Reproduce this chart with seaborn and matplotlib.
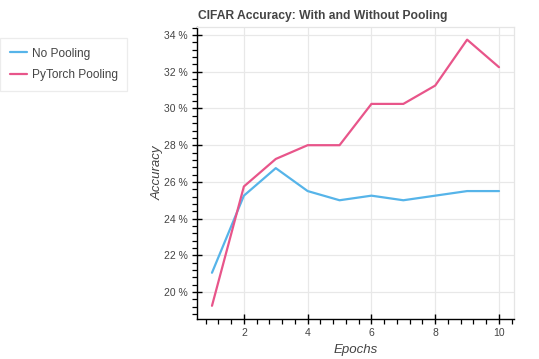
import numpy as np
import pandas as pd
import matplotlib
matplotlib.use("Agg")
import matplotlib.pyplot as plt
from matplotlib.ticker import MultipleLocator, FuncFormatter
import seaborn as sns

# данные
epochs = [1, 2, 3, 4, 5, 6, 7, 8, 9, 10]
no_pooling = [21.05, 25.25, 26.75, 25.5, 25.0, 25.25, 25.0, 25.25, 25.5, 25.5]
torch_pooling = [19.25, 25.75, 27.25, 28.0, 28.0, 30.25, 30.25, 31.25, 33.75, 32.25]
series_names = ["No Pooling", "PyTorch Pooling"]
series_colors = ["#56B4E9", "#E8558A"]

df = pd.DataFrame({
    "Epochs": epochs * 2,
    "Accuracy": no_pooling + torch_pooling,
    "Series": [series_names[0]] * len(epochs) + [series_names[1]] * len(epochs),
})

sns.set_style("white")
plt.rcParams["font.family"] = ["Liberation Sans", "DejaVu Sans"]

fig = plt.figure(figsize=(5.39, 3.59), dpi=100)
ax = fig.add_axes([197 / 539, 1 - 319 / 359, (514 - 197) / 539, (319 - 27) / 359])

sns.lineplot(data=df, x="Epochs", y="Accuracy", hue="Series",
             palette=dict(zip(series_names, series_colors)),
             linewidth=1.6, ax=ax, legend=False)

ax.set_xlim(0.53, 10.47)
ax.set_ylim(18.53, 34.44)

ax.xaxis.set_major_locator(MultipleLocator(2))
ax.xaxis.set_minor_locator(MultipleLocator(0.4))
ax.yaxis.set_major_locator(MultipleLocator(2))
ax.yaxis.set_minor_locator(MultipleLocator(0.4))
ax.yaxis.set_major_formatter(FuncFormatter(lambda v, p: f"{v:.0f} %"))

ax.grid(True, which="major", color="#e8e8e8", linewidth=0.9)
ax.set_axisbelow(True)

for side in ["top", "right"]:
    ax.spines[side].set_color("#e5e5e5")
    ax.spines[side].set_linewidth(0.9)
for side in ["left", "bottom"]:
    ax.spines[side].set_color("black")
    ax.spines[side].set_linewidth(1.0)

ax.tick_params(which="major", direction="inout", length=7, width=1.0,
               color="black", labelsize=7.5, labelcolor="#444444", pad=3,
               left=True, bottom=True)
ax.tick_params(which="minor", direction="out", length=3.5, width=0.9,
               color="black", left=True, bottom=True)

ax.set_xlabel("Epochs", fontsize=9.5, fontstyle="italic", color="#444444", labelpad=4)
ax.set_ylabel("Accuracy", fontsize=9.5, fontstyle="italic", color="#444444", labelpad=0)

fig.text(198 / 539, 1 - 16 / 359, "CIFAR Accuracy: With and Without Pooling",
         fontsize=8.7, fontweight="bold", color="#444444", va="center", ha="left")

handles = [plt.Line2D([], [], color=c, linewidth=1.6) for c in series_colors]
leg = fig.legend(handles, series_names, loc="upper left",
                 bbox_to_anchor=(0.0, 1 - 38 / 359), frameon=True, fancybox=False,
                 fontsize=8.6, handlelength=1.5, handletextpad=0.35,
                 borderpad=0.8, labelspacing=0.8, borderaxespad=0)
leg.get_frame().set_edgecolor("#e8e8e8")
leg.get_frame().set_linewidth(0.9)
for t in leg.get_texts():
    t.set_color("#444444")

fig.savefig("out.png", dpi=100)
